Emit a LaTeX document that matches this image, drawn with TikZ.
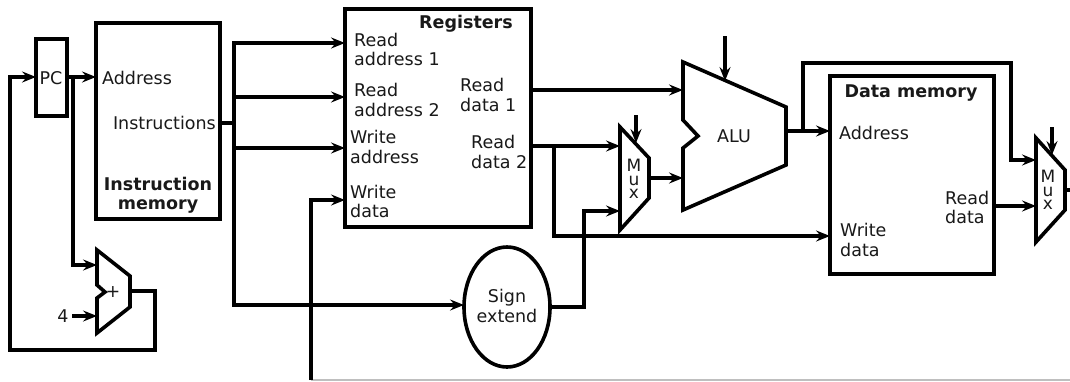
\documentclass[tikz,border=0pt]{standalone}
\usepackage{fontspec}
\setmainfont{DejaVu Sans}
\usetikzlibrary{arrows.meta,shapes.geometric}
\tikzset{
  x=1pt,y=-1pt,
  wire/.style={line width=3.4pt,line cap=butt,line join=miter},
  awire/.style={wire,-{Stealth[length=14pt,width=11pt,inset=5pt]}},
  block/.style={draw,line width=3.6pt,anchor=north west,inner sep=0pt,outer sep=0pt,fill=white},
  shapeln/.style={draw,line width=3.6pt,line join=miter,fill=white},
  txt/.style={font=\fontsize{17.5}{19.5}\selectfont,inner sep=0pt,text=black!90},
  ltxt/.style={txt,align=left,anchor=west},
  btxt/.style={txt,font=\fontsize{17.5}{19.5}\selectfont\bfseries,align=center},
  mtxt/.style={txt,font=\fontsize{17}{13.5}\selectfont,align=center},
}
\begin{document}
\begin{tikzpicture}
\useasboundingbox (0,0) rectangle (1070,381);
% blocks
\node[block,minimum width=31pt,minimum height=77pt] (pc) at (36,39) {};
\node[block,minimum width=124pt,minimum height=196pt] (imem) at (96,23) {};
\node[block,minimum width=186pt,minimum height=218pt] (regs) at (345,9) {};
\node[block,minimum width=164pt,minimum height=198pt] (dmem) at (830,76) {};
\node[draw,line width=3.6pt,ellipse,outer sep=0pt,minimum width=86pt,minimum height=120pt,inner sep=0pt] (sign) at (507,307) {};
% ports
\coordinate (pcin) at (36,77);
\coordinate (pcout) at (67,77);
\coordinate (imaddr) at (96,77);
\coordinate (pcbr) at (73,77);
\coordinate (addin1) at (97,265);
\coordinate (addin2) at (97,316);
\coordinate (four) at (72,316);
\coordinate (addout) at (130,291);
\coordinate (loopa) at (155,291);
\coordinate (loopb) at (155,350);
\coordinate (loopc) at (10,350);
\coordinate (loopd) at (10,77);
\coordinate (imout) at (220,123);
\coordinate (bus) at (234,123);
\coordinate (bustop) at (234,43);
\coordinate (busb) at (234,97);
\coordinate (busc) at (234,148);
\coordinate (busd) at (234,305);
\coordinate (ra1) at (345,43);
\coordinate (ra2) at (345,97);
\coordinate (wa) at (345,148);
\coordinate (wd) at (345,200);
\coordinate (wdc) at (311,200);
\coordinate (wdb) at (311,380);
\coordinate (graye) at (1070,380);
\coordinate (signin) at (464,305);
\coordinate (signout) at (550,307);
\coordinate (sa) at (584,307);
\coordinate (sb) at (584,211);
\coordinate (m1b) at (620,211);
\coordinate (m1a) at (620,146);
\coordinate (rd1) at (531,90);
\coordinate (alua) at (683,90);
\coordinate (rd2) at (531,146);
\coordinate (rd2br) at (554,146);
\coordinate (rd2c) at (554,236);
\coordinate (dwd) at (830,236);
\coordinate (m1out) at (649,178);
\coordinate (alub) at (683,178);
\coordinate (m1c0) at (636,115);
\coordinate (m1c1) at (636,143);
\coordinate (aluc0) at (725,36);
\coordinate (aluc1) at (725,81);
\coordinate (aluout) at (786,131);
\coordinate (daddr) at (830,131);
\coordinate (alubr) at (803,131);
\coordinate (fa) at (803,63);
\coordinate (fb) at (1011,63);
\coordinate (fc) at (1011,160);
\coordinate (m2a) at (1036,160);
\coordinate (drd) at (994,206);
\coordinate (m2b) at (1036,206);
\coordinate (m2c0) at (1052,127);
\coordinate (m2c1) at (1052,155);
\coordinate (m2out) at (1065,190);
\coordinate (rightout) at (1070,190);
% connectors
\draw[line width=1.5pt,black!25] (wdb) -- (graye);
\draw[awire] (pcout) -- (imaddr);
\draw[awire] (addout) -- (loopa) -- (loopb) -- (loopc) -- (loopd) -- (pcin);
\draw[awire] (pcbr) |- (addin1);
\draw[awire] (four) -- (addin2);
\draw[wire] (imout) -- (bus);
\draw[awire] (busb) -- (bustop) -- (ra1);
\draw[awire] (busb) -- (ra2);
\draw[awire] (busc) -- (wa);
\draw[awire] (busb) -- (busd) -- (signin);
\draw[awire] (wdb) -- (wdc) -- (wd);
\draw[awire] (signout) -- (sa) -- (sb) -- (m1b);
\draw[awire] (rd1) -- (alua);
\draw[awire] (rd2) -- (m1a);
\draw[awire] (rd2br) -- (rd2c) -- (dwd);
\draw[awire] (m1out) -- (alub);
\draw[awire] (aluout) -- (daddr);
\draw[awire] (alubr) -- (fa) -- (fb) -- (fc) -- (m2a);
\draw[awire] (drd) -- (m2b);
\draw[wire] (m2out) -- (rightout);
% functional units
\draw[shapeln] (97,250) -- (130,276) -- (130,307) -- (97,333) -- (97,298) -- (105,292) -- (97,285) -- cycle;
\draw[shapeln] (683,62) -- (786,107) -- (786,165) -- (683,210) -- (683,148) -- (698,136) -- (683,120) -- cycle;
\draw[shapeln] (620,127) -- (649,158) -- (649,198) -- (620,230) -- cycle;
\draw[shapeln] (1036,138) -- (1065,170) -- (1065,210) -- (1036,242) -- cycle;
% control inputs
\draw[awire] (m1c0) -- (m1c1);
\draw[awire] (aluc0) -- (aluc1);
\draw[awire] (m2c0) -- (m2c1);
% labels
\node[txt] (tpc) at (51,78) {PC};
\node[ltxt] (t1) at (102,78) {Address};
\node[txt,anchor=east] (t2) at (216,123) {Instructions};
\node[btxt] (t3) at (158,195) {Instruction\\memory};
\node[txt] (t4) at (63,316) {4};
\node[txt] (t5) at (113,292) {+};
\node[btxt] (t6) at (466,24) {Registers};
\node[ltxt] (t7) at (354,49.5) {Read\\address 1};
\node[ltxt] (t8) at (354,100) {Read\\address 2};
\node[ltxt] (t9) at (350,147) {Write\\address};
\node[ltxt] (t10) at (350,201.5) {Write\\data};
\node[ltxt] (t11) at (460,95) {Read\\data 1};
\node[ltxt] (t12) at (471,152) {Read\\data 2};
\node[txt] (t13) at (734,136) {ALU};
\node[mtxt] (t14) at (634,179) {M\\u\\x};
\node[mtxt] (t15) at (1048,190) {M\\u\\x};
\node[txt,align=center] (t16) at (507,306) {Sign\\extend};
\node[btxt] (t17) at (911,93) {Data memory};
\node[ltxt] (t18) at (839,133) {Address};
\node[ltxt] (t19) at (840,240) {Write\\data};
\node[ltxt] (t20) at (945,207.5) {Read\\data};
\end{tikzpicture}
\end{document}
